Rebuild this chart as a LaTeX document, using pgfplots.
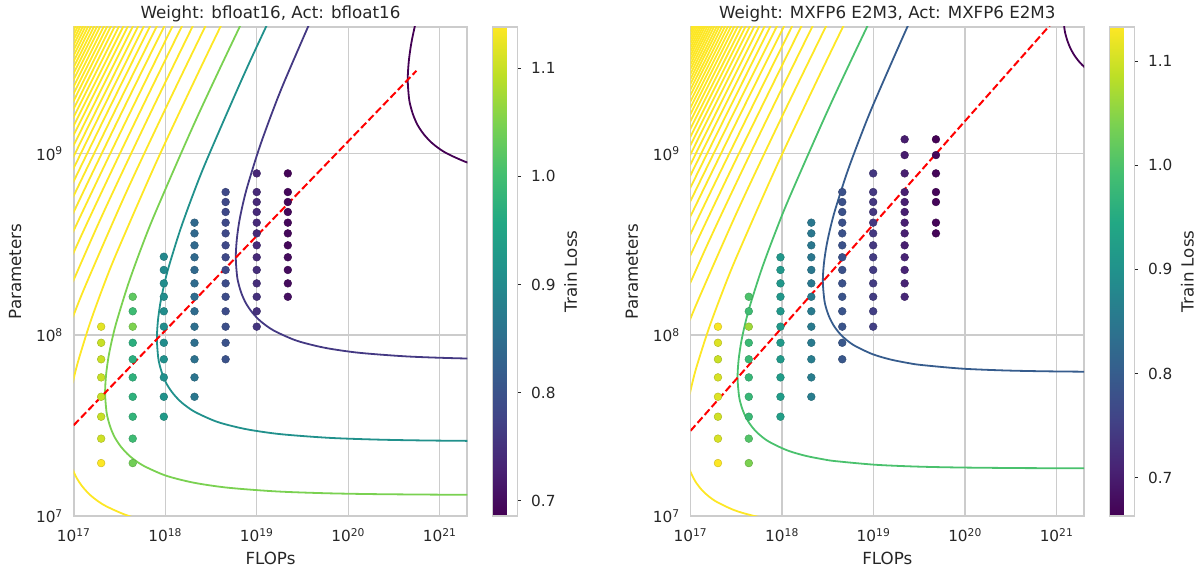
\documentclass[border=0pt]{standalone}
\usepackage{fontspec}
\setmainfont{DejaVu Sans}
\usepackage{pgfplots}
\usepackage{pgfplotstable}
\pgfplotsset{compat=1.18}

\definecolor{txt}{HTML}{262626}
\definecolor{gridc}{HTML}{CCCCCC}
\definecolor{vyel}{HTML}{FDE725}
\definecolor{vdark}{HTML}{440154}
\definecolor{lcA}{HTML}{443983}
\definecolor{lcB}{HTML}{21918C}
\definecolor{lcC}{HTML}{7AD151}
\definecolor{rcA}{HTML}{365C8D}
\definecolor{rcB}{HTML}{4AC16D}

\newcommand{\fsTick}{\fontsize{15.3}{18}\selectfont}
\newcommand{\fsLab}{\fontsize{16.7}{20}\selectfont}
\newcommand{\cbl}[1]{\hspace*{10pt}#1}

% contour shape (log10 space): s = offset in log10 N from optimum, dx = offset in log10 C
\pgfplotstableread{
s dx
-0.5638 4.767
-0.5633 4.218
-0.5623 3.670
-0.5593 2.948
-0.5543 2.406
-0.5443 1.871
-0.5243 1.351
-0.5000 1.009
-0.4750 0.787
-0.4500 0.625
-0.4000 0.410
-0.3500 0.271
-0.3000 0.177
-0.2500 0.110
-0.2000 0.065
-0.1500 0.034
-0.1000 0.014
0.0000 0.000
0.1000 0.011
0.2000 0.038
0.3000 0.079
0.4000 0.130
0.6000 0.253
0.8000 0.396
1.0000 0.554
1.5000 0.987
2.0000 1.452
2.5000 1.932
3.0000 2.422
4.0000 3.412
5.0000 4.409
6.0000 5.408
}\shapeL

\pgfplotstableread{
s dx
-0.5001 4.574
-0.4998 3.959
-0.4993 3.494
-0.4983 3.030
-0.4953 2.419
-0.4903 1.961
-0.4803 1.509
-0.4603 1.072
-0.4500 0.935
-0.4300 0.737
-0.4000 0.539
-0.3500 0.334
-0.3000 0.209
-0.2500 0.128
-0.2000 0.074
-0.1500 0.038
-0.1000 0.016
0.0000 0.000
0.1000 0.012
0.2000 0.041
0.3000 0.084
0.4000 0.137
0.6000 0.264
0.8000 0.411
1.0000 0.571
1.5000 1.008
2.0000 1.475
2.5000 1.957
3.0000 2.447
4.0000 3.438
5.0000 4.435
6.0000 5.433
}\shapeR

\pgfplotstableread{
u v L
17.30 8.045 1.12
17.30 7.956 1.10
17.30 7.865 1.10
17.30 7.765 1.10
17.30 7.658 1.10
17.30 7.548 1.10
17.30 7.427 1.105
17.30 7.292 1.145
17.645 8.210 1.025
17.645 8.130 0.995
17.645 8.045 1.05
17.645 7.956 0.97
17.645 7.865 0.97
17.645 7.765 0.975
17.645 7.658 0.975
17.645 7.548 0.98
17.645 7.427 0.995
17.645 7.292 1.04
17.985 8.431 0.895
17.985 8.358 0.90
17.985 8.284 0.905
17.985 8.210 0.905
17.985 8.130 0.905
17.985 8.045 0.905
17.985 7.956 0.905
17.985 7.865 0.91
17.985 7.765 0.91
17.985 7.658 0.915
17.985 7.548 0.93
18.32 8.619 0.84
18.32 8.560 0.84
18.32 8.494 0.84
18.32 8.428 0.84
18.32 8.358 0.84
18.32 8.284 0.845
18.32 8.210 0.845
18.32 8.130 0.845
18.32 8.045 0.85
18.32 7.956 0.85
18.32 7.865 0.855
18.32 7.765 0.86
18.32 7.658 0.865
18.66 8.788 0.785
18.66 8.733 0.785
18.66 8.678 0.785
18.66 8.619 0.785
18.66 8.560 0.785
18.66 8.494 0.785
18.66 8.428 0.785
18.66 8.358 0.785
18.66 8.284 0.79
18.66 8.210 0.79
18.66 8.130 0.79
18.66 8.045 0.795
18.66 7.956 0.80
18.66 7.865 0.80
19.00 8.891 0.735
19.00 8.788 0.74
19.00 8.733 0.74
19.00 8.678 0.74
19.00 8.619 0.74
19.00 8.560 0.74
19.00 8.494 0.74
19.00 8.428 0.74
19.00 8.358 0.745
19.00 8.284 0.745
19.00 8.210 0.75
19.00 8.130 0.75
19.00 8.045 0.755
19.34 8.891 0.69
19.34 8.788 0.695
19.34 8.733 0.695
19.34 8.678 0.695
19.34 8.619 0.695
19.34 8.560 0.695
19.34 8.494 0.695
19.34 8.428 0.70
19.34 8.358 0.70
19.34 8.284 0.70
19.34 8.210 0.705
}\ptsL

\pgfplotstableread{
u v L
17.30 8.045 1.13
17.30 7.956 1.11
17.30 7.865 1.095
17.30 7.765 1.105
17.30 7.658 1.11
17.30 7.548 1.10
17.30 7.427 1.105
17.30 7.292 1.135
17.637 8.210 1.00
17.637 8.130 0.985
17.637 8.045 1.065
17.637 7.956 0.98
17.637 7.865 0.98
17.637 7.765 0.975
17.637 7.658 0.975
17.637 7.548 0.98
17.637 7.427 1.005
17.637 7.292 1.04
17.983 8.428 0.91
17.983 8.358 0.91
17.983 8.284 0.91
17.983 8.210 0.91
17.983 8.130 0.91
17.983 8.045 0.915
17.983 7.956 0.915
17.983 7.865 0.915
17.983 7.765 0.92
17.983 7.658 0.92
17.983 7.548 0.925
18.32 8.619 0.85
18.32 8.560 0.85
18.32 8.494 0.85
18.32 8.428 0.85
18.32 8.358 0.85
18.32 8.284 0.85
18.32 8.210 0.855
18.32 8.130 0.855
18.32 8.045 0.855
18.32 7.956 0.855
18.32 7.865 0.86
18.32 7.765 0.86
18.32 7.658 0.86
18.658 8.788 0.78
18.658 8.733 0.78
18.658 8.678 0.78
18.658 8.619 0.78
18.658 8.560 0.78
18.658 8.494 0.78
18.658 8.428 0.78
18.658 8.358 0.78
18.658 8.284 0.78
18.658 8.210 0.785
18.658 8.130 0.785
18.658 8.045 0.785
18.658 7.956 0.79
18.658 7.865 0.79
18.996 8.891 0.74
18.996 8.788 0.74
18.996 8.733 0.74
18.996 8.678 0.74
18.996 8.619 0.74
18.996 8.560 0.74
18.996 8.494 0.74
18.996 8.428 0.745
18.996 8.358 0.745
18.996 8.284 0.745
18.996 8.210 0.745
18.996 8.130 0.75
18.996 8.045 0.75
19.34 9.079 0.70
19.34 8.992 0.70
19.34 8.891 0.705
19.34 8.788 0.705
19.34 8.733 0.705
19.34 8.678 0.705
19.34 8.619 0.705
19.34 8.560 0.705
19.34 8.494 0.705
19.34 8.428 0.71
19.34 8.358 0.71
19.34 8.284 0.71
19.34 8.210 0.715
19.682 9.079 0.665
19.682 8.992 0.67
19.682 8.891 0.67
19.682 8.788 0.67
19.682 8.733 0.67
19.682 8.619 0.67
19.682 8.560 0.67
}\ptsR

\pgfplotsset{
  colormap={vir}{rgb255=(68,1,84) rgb255=(72,36,117) rgb255=(65,68,135) rgb255=(53,95,141) rgb255=(42,120,142) rgb255=(33,145,140) rgb255=(34,168,132) rgb255=(68,191,112) rgb255=(122,209,81) rgb255=(189,223,38) rgb255=(253,231,37)},
  contour/.style={line width=1.8pt, smooth, no markers},
  panel/.style={
    scale only axis, width=393.6pt, height=489pt, anchor=south west,
    xmin=17, xmax=21.301, ymin=7, ymax=9.699,
    xtick={17,18,19,20,21},
    xticklabels={10\textsuperscript{17},10\textsuperscript{18},10\textsuperscript{19},10\textsuperscript{20},10\textsuperscript{21}},
    ytick={7,8,9},
    yticklabels={10\textsuperscript{7},10\textsuperscript{8},10\textsuperscript{9}},
    xmajorgrids, ymajorgrids,
    major grid style={gridc, line width=1.4pt},
    axis line style={gridc, line width=1.7pt},
    major tick length=0pt,
    every x tick label/.style={font=\fsTick, text=txt, anchor=base, inner sep=0pt, yshift=-25.7pt},
    every y tick label/.style={font=\fsTick, text=txt, anchor=east, inner sep=0pt, xshift=-10.7pt},
    every axis title/.style={at={(0.5,1)}, anchor=base, yshift=8.5pt, font=\fsLab, text=txt},
    every axis x label/.style={at={(axis description cs:0.5,0)}, anchor=base, yshift=-48.5pt, font=\fsLab, text=txt},
    every axis y label/.style={at={(axis description cs:-0.149,0.5)}, anchor=center, rotate=90, font=\fsLab, text=txt},
    xlabel={FLOPs}, ylabel={Parameters},
    colorbar,
    colorbar style={
      scale only axis, width=25pt, height=489pt,
      at={(parent axis.north east)}, anchor=north west, xshift=16.7pt,
      title={}, xlabel={}, xtick=\empty,
      xmajorgrids=false, ymajorgrids=false,
      ytick={0.7,0.8,0.9,1.0,1.1},
      yticklabels={\cbl{0.7},\cbl{0.8},\cbl{0.9},\cbl{1.0},\cbl{1.1}},
      ytick pos=right, yticklabel pos=right,
      major tick length=3.5pt, tick align=outside,
      ytick style={txt, line width=1pt},
      axis line style={gridc, line width=1.2pt},
      every y tick label/.style={font=\fsTick, text=txt, anchor=west, inner sep=0pt},
      ylabel={Train Loss},
      every axis y label/.style={at={(axis description cs:3.12,0.5)}, anchor=center, rotate=90, font=\fsLab, text=txt},
    },
  },
}

\newcommand{\contL}[3]{\addplot[contour,#1] table[x expr=\thisrow{dx}+#2, y expr=\thisrow{s}+#3]{\shapeL};}
\newcommand{\contR}[3]{\addplot[contour,#1] table[x expr=\thisrow{dx}+#2, y expr=\thisrow{s}+#3]{\shapeR};}

\begin{document}
\begin{tikzpicture}
\begin{axis}[panel, at={(73.7pt,60pt)}, title={Weight: bfloat16, Act: bfloat16},
  point meta min=0.686, point meta max=1.138]
\contL{vyel}{16.585}{7.284}
\contL{vyel}{16.305}{7.138}
\contL{vyel}{16.065}{7.013}
\contL{vyel}{15.856}{6.904}
\contL{vyel}{15.670}{6.807}
\contL{vyel}{15.502}{6.719}
\contL{vyel}{15.350}{6.640}
\contL{vyel}{15.210}{6.567}
\contL{vyel}{15.082}{6.500}
\contL{vyel}{14.962}{6.437}
\contL{vyel}{14.850}{6.379}
\contL{vyel}{14.746}{6.324}
\contL{vyel}{14.648}{6.273}
\contL{vyel}{14.555}{6.225}
\contL{vyel}{14.467}{6.179}
\contL{vyel}{14.383}{6.135}
\contL{vyel}{14.304}{6.093}
\contL{vyel}{14.227}{6.054}
\contL{vyel}{14.155}{6.016}
\contL{vyel}{14.085}{5.979}
\contL{vyel}{14.018}{5.944}
\contL{vyel}{13.954}{5.911}
\contL{vyel}{13.892}{5.879}
\contL{vyel}{13.832}{5.847}
\contL{vyel}{13.775}{5.818}
\contL{vyel}{13.719}{5.788}
\contL{vyel}{13.665}{5.760}
\contL{vyel}{13.613}{5.733}
\contL{vyel}{16.922}{7.460}
\contL{lcC}{17.343}{7.680}
\contL{lcB}{17.909}{7.976}
\contL{lcA}{18.771}{8.425}
\contL{vdark}{20.650}{9.406}
\addplot[scatter, only marks, mark=*, mark size=3.9pt, scatter src=explicit]
  table[x=u, y=v, meta=L]{\ptsL};
\addplot[red, line width=2pt, dash pattern=on 7.4pt off 3.2pt]
  coordinates {(17,7.501) (20.745,9.457)};
\end{axis}

\begin{axis}[panel, at={(690.5pt,60pt)}, title={Weight: MXFP6 E2M3, Act: MXFP6 E2M3},
  point meta min=0.663, point meta max=1.133]
\contR{vyel}{16.513}{7.192}
\contR{vyel}{16.181}{7.003}
\contR{vyel}{15.907}{6.847}
\contR{vyel}{15.675}{6.715}
\contR{vyel}{15.472}{6.599}
\contR{vyel}{15.293}{6.497}
\contR{vyel}{15.132}{6.405}
\contR{vyel}{14.986}{6.322}
\contR{vyel}{14.853}{6.246}
\contR{vyel}{14.730}{6.176}
\contR{vyel}{14.616}{6.111}
\contR{vyel}{14.510}{6.051}
\contR{vyel}{14.411}{5.994}
\contR{vyel}{14.317}{5.941}
\contR{vyel}{14.229}{5.891}
\contR{vyel}{14.146}{5.843}
\contR{vyel}{14.067}{5.798}
\contR{vyel}{13.991}{5.755}
\contR{vyel}{13.919}{5.714}
\contR{vyel}{13.850}{5.675}
\contR{vyel}{13.785}{5.637}
\contR{vyel}{13.721}{5.601}
\contR{vyel}{13.661}{5.567}
\contR{vyel}{13.602}{5.533}
\contR{vyel}{13.546}{5.501}
\contR{vyel}{13.491}{5.470}
\contR{vyel}{13.439}{5.440}
\contR{vyel}{13.388}{5.411}
\contR{vyel}{13.339}{5.383}
\contR{vyel}{13.291}{5.356}
\contR{vyel}{13.245}{5.330}
\contR{vyel}{13.200}{5.304}
\contR{vyel}{13.156}{5.279}
\contR{vyel}{16.935}{7.433}
\contR{rcB}{17.514}{7.763}
\contR{rcA}{18.446}{8.294}
\contR{vdark}{21.070}{9.790}
\addplot[scatter, only marks, mark=*, mark size=3.9pt, scatter src=explicit]
  table[x=u, y=v, meta=L]{\ptsR};
\addplot[red, line width=2pt, dash pattern=on 7.4pt off 3.2pt]
  coordinates {(17,7.47) (21.0,9.75)};
\end{axis}
\pgfresetboundingbox
\path[use as bounding box] (0,0) rectangle (1203pt,576pt);
\end{tikzpicture}
\end{document}
